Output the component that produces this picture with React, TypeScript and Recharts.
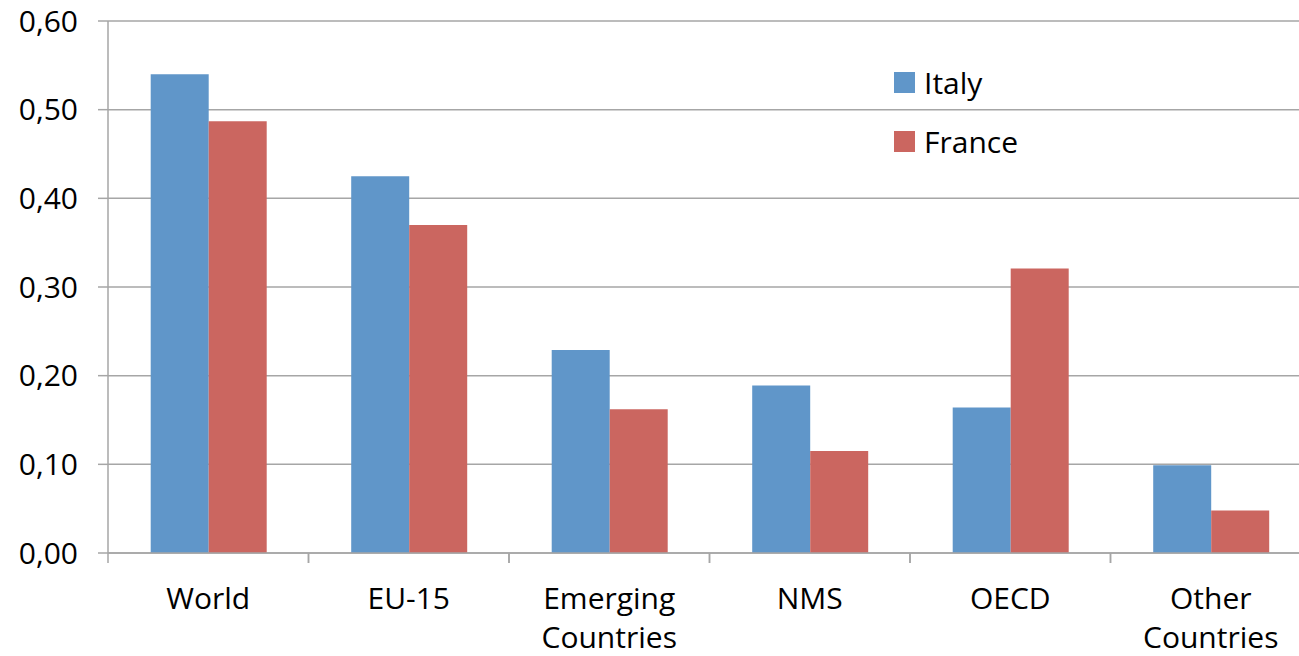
import React from "react";
import { BarChart, Bar, XAxis, YAxis, CartesianGrid, Legend } from "recharts";

const categories = ["World", "EU-15", "Emerging Countries", "NMS", "OECD", "Other Countries"];
const italy = [0.54, 0.425, 0.229, 0.189, 0.164, 0.099];
const france = [0.487, 0.37, 0.162, 0.115, 0.321, 0.048];
const yTicks = [0, 0.1, 0.2, 0.3, 0.4, 0.5, 0.6];

const data = categories.map((c, i) => ({ name: c, Italy: italy[i], France: france[i] }));

const FONT = "'Open Sans', sans-serif";
const ITALY_COLOR = "#6096C9";
const FRANCE_COLOR = "#CB6660";
const GRID = "#a6a6a6";

const XTick = (props: any) => {
  const { x, y, payload } = props;
  const half = payload && payload.offset ? payload.offset : 100.2;
  const words = String(payload.value).split(" ");
  return (
    <g>
      <line x1={x - half} x2={x - half} y1={y - 8} y2={y + 2} stroke={GRID} strokeWidth={1.5} />
      <line x1={x + half} x2={x + half} y1={y - 8} y2={y + 2} stroke={GRID} strokeWidth={1.5} />
      <text x={x} y={y + 48} textAnchor="middle" fontFamily={FONT} fontSize={30} fill="#000">
        {words.map((w, i) => (
          <tspan key={i} x={x} dy={i === 0 ? 0 : 39}>{w}</tspan>
        ))}
      </text>
    </g>
  );
};

const LegendContent = () => (
  <div style={{ fontFamily: FONT, fontSize: 30, color: "#000" }}>
    {[{ n: "Italy", c: ITALY_COLOR }, { n: "France", c: FRANCE_COLOR }].map((it) => (
      <div key={it.n} style={{ display: "flex", alignItems: "center", height: 59 }}>
        <div style={{ width: 21, height: 21, background: it.c, marginRight: 9 }} />
        <span>{it.n}</span>
      </div>
    ))}
  </div>
);

export default function App() {
  return (
    <div style={{ position: "absolute", left: 0, top: 0, width: 1299, height: 656, overflow: "hidden", background: "#fff" }}>
      <BarChart
        width={1311}
        height={656}
        data={data}
        margin={{ top: 21, right: 0, bottom: 0, left: 0 }}
        barCategoryGap="21.3%"
        barGap={0}
      >
        <CartesianGrid vertical={false} stroke={GRID} strokeWidth={1.5} />
        <XAxis
          dataKey="name"
          height={103}
          tickLine={false}
          axisLine={{ stroke: GRID, strokeWidth: 1.5 }}
          interval={0}
          tick={<XTick />}
        />
        <YAxis
          width={108}
          domain={[0, 0.6]}
          ticks={yTicks}
          tickSize={10}
          tickMargin={20}
          tickLine={{ stroke: GRID, strokeWidth: 1.5 }}
          axisLine={{ stroke: GRID, strokeWidth: 1.5 }}
          tick={{ fontFamily: FONT, fontSize: 30, fill: "#000" }}
          tickFormatter={(v: number) => v.toFixed(2).replace(".", ",")}
        />
        <Legend
          layout="horizontal"
          verticalAlign="middle"
          align="center"
          content={<LegendContent />}
          wrapperStyle={{ position: "absolute", left: 894, top: 53, width: 200 }}
        />
        <Bar dataKey="Italy" fill={ITALY_COLOR} isAnimationActive={false} />
        <Bar dataKey="France" fill={FRANCE_COLOR} isAnimationActive={false} />
      </BarChart>
    </div>
  );
}
